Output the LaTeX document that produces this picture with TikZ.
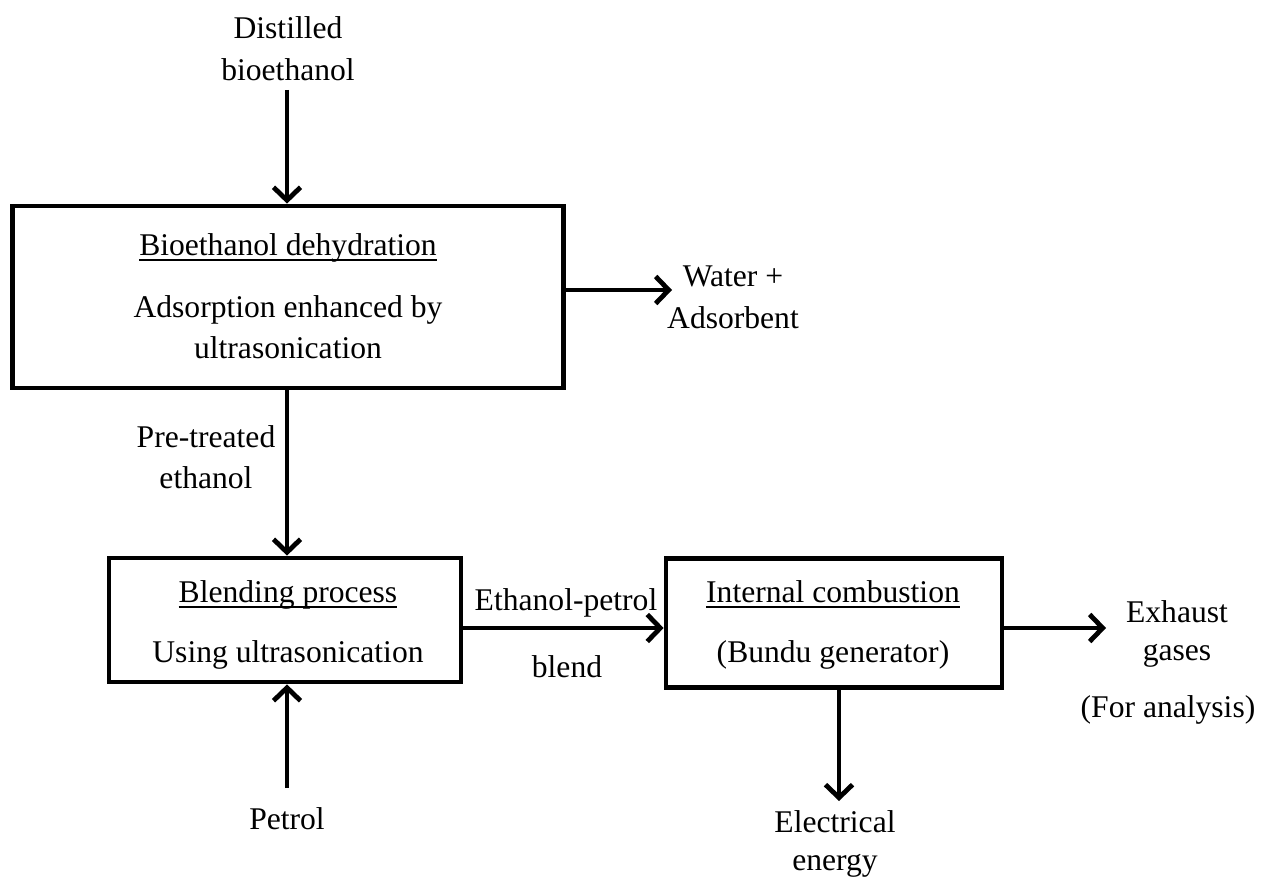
\documentclass[tikz,border=0pt]{standalone}
\usepackage{fontspec}
\setmainfont{Liberation Serif}
\usetikzlibrary{arrows.meta}
\newsavebox\myulbox
\newcommand\myul[1]{\sbox\myulbox{#1}\rlap{\rule[-5.5pt]{\wd\myulbox}{2pt}}\usebox\myulbox}
\begin{document}
\begin{tikzpicture}[x=1pt,y=-1pt,
  box/.style={draw, line width=4.8pt, inner sep=0pt, rectangle, line join=miter},
  arr/.style={line width=4.8pt, -{Straight Barb[length=13pt,width=27pt]}},
  lbl/.style={font=\fontsize{31.6}{41}\selectfont, anchor=base, inner sep=0pt}]
\useasboundingbox (0,0) rectangle (1265,877);

% boxes (border centre lines)
\node[box, minimum width=551pt, minimum height=182pt] (b1) at (288,297) {};
\node[box, minimum width=352pt, minimum height=124pt] (b2) at (285,620) {};
\node[box, minimum width=336pt, minimum height=129pt] (b3) at (834,623) {};

% texts in boxes
\node[lbl] (t1) at (288,255) {\myul{Bioethanol dehydration}};
\node[lbl] (t1a) at (288,317) {Adsorption enhanced by};
\node[lbl] (t1b) at (288,358) {ultrasonication};
\node[lbl] (t2) at (288,602) {\myul{Blending process}};
\node[lbl] (t2a) at (288,662) {Using ultrasonication};
\node[lbl] (t3) at (833,602) {\myul{Internal combustion}};
\node[lbl] (t3a) at (833,662) {(Bundu generator)};

% outside labels
\node[lbl] (dist1) at (288,39) {Distilled};
\node[lbl] (dist2) at (288,81) {bioethanol};
\node[lbl] (wat1) at (733,286) {Water +};
\node[lbl] (wat2) at (733,328) {Adsorbent};
\node[lbl] (pre1) at (206,447) {Pre-treated};
\node[lbl] (pre2) at (206,488) {ethanol};
\node[lbl] (pet) at (287,829) {Petrol};
\node[lbl] (ep1) at (566,610) {Ethanol-petrol};
\node[lbl] (ep2) at (567,677) {blend};
\node[lbl] (ex1) at (1177,622) {Exhaust};
\node[lbl] (ex2) at (1177,660) {gases};
\node[lbl] (ex3) at (1168,717) {(For analysis)};
\node[lbl] (el1) at (835,832) {Electrical};
\node[lbl] (el2) at (835,870) {energy};

% connector free ends
\coordinate (cin) at (287,90);
\coordinate (cwat) at (672,290);
\coordinate (cpet) at (287,788);
\coordinate (cex) at (1106,628);
\coordinate (cel) at (839,801);
\coordinate (cmid) at (0,628);

% connectors
\draw[arr] (cin) -- (cin |- b1.north);
\draw[arr] (b1.east |- cwat) -- (cwat);
\draw[arr] (cin |- b1.south) -- (cin |- b2.north);
\draw[arr] (cpet) -- (cpet |- b2.south);
\draw[arr] (b2.east |- cmid) -- (b3.west |- cmid);
\draw[arr] (b3.east |- cex) -- (cex);
\draw[arr] (cel |- b3.south) -- (cel);
\end{tikzpicture}
\end{document}
